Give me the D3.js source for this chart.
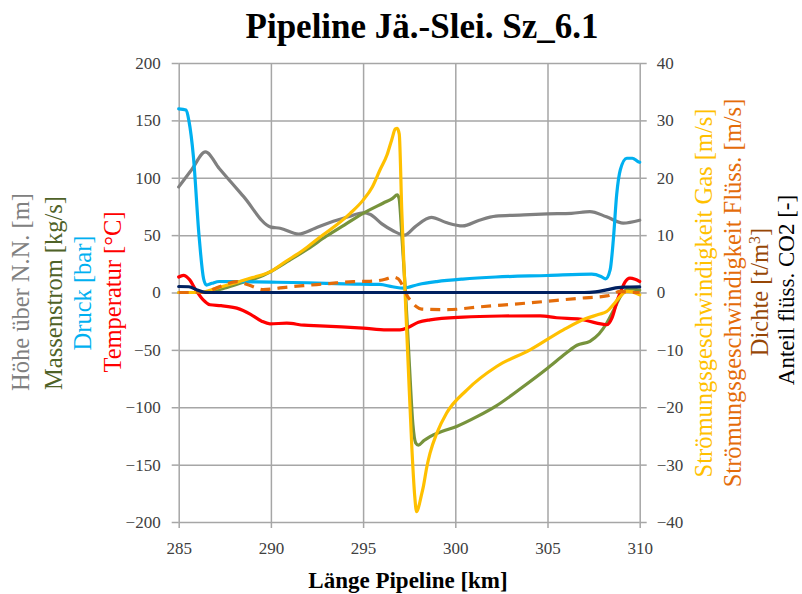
<!DOCTYPE html>
<html><head><meta charset="utf-8">
<script src="https://cdn.jsdelivr.net/npm/d3@7"></script>
<style>body{margin:0;background:#fff}svg{display:block}text{font-family:"Liberation Serif","Times New Roman",serif}</style>
</head><body><svg id="c" width="802" height="594" font-family="Liberation Serif, serif"></svg>
<script>
// ---- data ----
const xTicks = [285, 290, 295, 300, 305, 310];
const leftTicks = [-200, -150, -100, -50, 0, 50, 100, 150, 200];
const rightTicks = [-40, -30, -20, -10, 0, 10, 20, 30, 40];

const hoeheKm = [285, 285.7, 286.45, 287.2, 288.5, 290, 290.5, 291.5, 292.4, 293.2, 294.2, 295.0, 295.4, 296.0, 296.6, 297.25, 297.8, 298.7, 299.5, 300.4, 301.3, 302.2, 303.5, 305.0, 306.3, 307.3, 308.2, 309.1, 310];
const hoehe   = [92, 107, 122.5, 108, 84, 57, 56, 51, 56, 61, 66, 69.5, 68, 60, 54, 50, 57, 65.5, 61, 58, 63, 66.5, 67.5, 68.5, 69, 70.5, 66, 60.5, 63];

const massKm = [285, 286.5, 287.5, 288.5, 289.3, 290, 291, 292, 293, 294, 295, 296.1, 296.6, 296.85, 296.95, 297.1, 297.3, 297.5, 297.7, 297.85, 298.0, 298.3, 298.63, 299.3, 300.1, 301.2, 302.2, 303.6, 305.0, 306.0, 306.6, 307.3, 307.8, 308.2, 308.6, 308.95, 309.3, 309.6, 310];
const massenstrom = [0, 0, 4, 9, 13, 18.3, 28, 38, 49, 59, 69, 78, 82, 85, 82, 50, 0, -60, -115, -131, -133, -129, -125.5, -121, -116.5, -108, -99, -83, -66, -53, -46, -42.5, -36, -27, -15, -3.5, 2.5, 3, 2];

const druckKm = [285, 285.4, 285.55, 285.8, 286.1, 286.35, 286.5, 286.8, 287.2, 288, 290, 292, 294, 295.9, 296.6, 297.2, 298.0, 299, 300.4, 302.2, 305, 307.4, 307.9, 308.15, 308.4, 308.57, 308.75, 308.95, 309.3, 309.6, 309.92, 310];
const druck   = [160, 159, 150, 118, 50, 12, 6.5, 8, 9.6, 9.5, 9, 8.5, 7.5, 7, 5, 3.8, 7, 9.5, 11.7, 13.5, 14.8, 16, 14, 11.9, 20, 46, 85, 107, 117, 117, 114, 113.5];

const tempKm = [285, 285.25, 285.6, 285.9, 286.33, 286.7, 287.3, 288.15, 288.9, 289.5, 289.95, 290.86, 291.8, 292.66, 295, 296.28, 297.0, 297.5, 298.0, 298.63, 300.43, 302.5, 304.6, 305.5, 306.76, 307.67, 308.21, 308.5, 308.8, 309.0, 309.2, 309.47, 309.75, 310];
const temperatur = [13.5, 15, 11, 3, -6.4, -10.7, -11.5, -13.6, -19, -25, -27.3, -26.7, -28.5, -29, -31, -32.5, -32.5, -30, -26, -23.8, -21.4, -20.5, -20.3, -22, -23.2, -26.7, -28.1, -22, -6, 2, 9, 12.5, 11.5, 9.6];

const gasKm = [285, 285.8, 286.4, 287, 288, 289, 289.95, 290.8, 291.76, 292.6, 293.57, 294.3, 295.0, 295.5, 295.92, 296.3, 296.55, 296.75, 296.85, 296.96, 297.1, 297.27, 297.45, 297.64, 297.8, 297.9, 298.0, 298.15, 298.27, 298.45, 298.63, 299.0, 299.53, 300.62, 302.24, 304.05, 305.86, 307.12, 307.8, 308.21, 308.6, 308.93, 309.3, 309.6, 310];
const gasGeschw = [0, 0, 0.1, 0.7, 1.6, 2.6, 3.6, 5.4, 7.4, 9.5, 11.8, 13.8, 16.1, 18.4, 21.4, 24, 26.6, 28.5, 28.6, 27.6, 14, 0.5, -13, -26.8, -35.5, -38.2, -37.5, -35.5, -33.8, -30.5, -28, -24.5, -21, -17, -12.9, -10, -6.5, -4.5, -3.8, -3.3, -2, -0.7, 0.2, 0.1, -0.4];

const fluessKm = [285, 285.5, 286.33, 287.2, 288.15, 288.8, 289.59, 290.5, 291.76, 293.0, 294.47, 295.37, 296.2, 296.64, 296.9, 297.2, 297.4, 297.64, 297.9, 298.18, 299.53, 301.34, 304.05, 306.76, 308.21, 308.6, 308.93, 309.47, 310];
const fluessGeschw = [0, 0, 0, 1.0, 1.9, 1.3, 0.5, 0.8, 1.2, 1.5, 1.9, 1.95, 2.3, 2.7, 2.4, 0.8, -0.6, -1.6, -2.5, -2.9, -3.0, -2.5, -1.8, -1.0, -0.6, -0.2, 0.2, 0, 0];

const anteilKm = [285, 285.55, 286.0, 286.43, 286.8, 300, 307.0, 307.6, 308.2, 308.7, 309.2, 310];
const anteilCO2 = [1.05, 1.0, 0.45, 0.02, 0, 0, 0, 0.1, 0.45, 0.8, 0.95, 0.97];

// ---- layout ----
const FONT = "Liberation Serif";
const svg = d3.select("#c");
const L = 178.7, R = 639.7, T = 63, B = 522;
const x = d3.scaleLinear().domain([285, 310]).range([L, R]);
const yL = d3.scaleLinear().domain([-200, 200]).range([B, T]);
const yR = d3.scaleLinear().domain([-40, 40]).range([B, T]);
const gridCol = "#a6a6a6", tickTxt = "#404040";

// gridlines
svg.append("g").attr("transform", `translate(${L},0)`)
  .call(d3.axisLeft(yL).tickValues(leftTicks).tickSize(-(R - L)).tickFormat(""))
  .call(g => { g.select(".domain").remove(); g.selectAll("line").attr("stroke", gridCol).attr("stroke-width", 1.5); });
svg.append("g").attr("transform", `translate(0,${B})`)
  .call(d3.axisBottom(x).tickValues(xTicks).tickSize(-(B - T)).tickFormat(""))
  .call(g => { g.select(".domain").remove(); g.selectAll("line").attr("stroke", gridCol).attr("stroke-width", 1.5); });

function styleAxis(g) {
  g.attr("font-family", FONT);
  g.select(".domain").remove();
  g.selectAll("line").attr("stroke", gridCol).attr("stroke-width", 1.5);
  g.selectAll("text").attr("font-family", FONT).attr("font-size", 17).attr("fill", tickTxt);
}
svg.append("g").attr("transform", `translate(${L},0)`)
  .call(d3.axisLeft(yL).tickValues(leftTicks).tickSize(7).tickPadding(11)).call(styleAxis);
svg.append("g").attr("transform", `translate(${R},0)`)
  .call(d3.axisRight(yR).tickValues(rightTicks).tickSize(7).tickPadding(10)).call(styleAxis);
svg.append("g").attr("transform", `translate(0,${B})`)
  .call(d3.axisBottom(x).tickValues(xTicks).tickSize(6).tickPadding(14)).call(styleAxis);

// series
const curve = d3.curveMonotoneX;
function draw(kms, vals, y, color, dash) {
  const pts = kms.map((k, i) => [k, vals[i]]);
  svg.append("path").datum(pts)
    .attr("fill", "none").attr("stroke", color).attr("stroke-width", 3.2)
    .attr("stroke-linejoin", "round").attr("stroke-linecap", dash ? "butt" : "round")
    .attr("stroke-dasharray", dash || null)
    .attr("d", d3.line().curve(curve).x(d => x(d[0])).y(d => y(d[1])));
}
draw(hoeheKm, hoehe, yL, "#808080");
draw(massKm, massenstrom, yL, "#77933c");
draw(druckKm, druck, yL, "#00b0f0");
draw(tempKm, temperatur, yL, "#ff0000");
draw(gasKm, gasGeschw, yR, "#ffc000");
draw(fluessKm, fluessGeschw, yR, "#e46c0a", "10,7");
draw(anteilKm, anteilCO2, yR, "#002060");

// title
svg.append("text").attr("x", 422).attr("y", 38).attr("text-anchor", "middle").attr("font-family", FONT)
  .attr("font-size", 35).attr("font-weight", "bold").attr("fill", "#000").text("Pipeline Jä.-Slei. Sz_6.1");
svg.append("text").attr("x", 408).attr("y", 588).attr("text-anchor", "middle").attr("font-family", FONT)
  .attr("font-size", 23).attr("font-weight", "bold").attr("fill", "#000").text("Länge Pipeline [km]");

// rotated axis labels
function vlabel(cx, cy, parts, size) {
  const t = svg.append("text").attr("transform", `translate(${cx},${cy}) rotate(-90)`)
    .attr("text-anchor", "middle").attr("dy", "0.35em").attr("font-size", size).attr("font-family", FONT);
  parts.forEach(p => {
    const s = t.append("tspan").attr("fill", p.c).text(p.t);
    if (p.sup) s.attr("baseline-shift", "super").attr("font-size", size * 0.65);
  });
}
vlabel(20, 292, [{t: "Höhe über N.N. [m]", c: "#808080"}], 24.5);
vlabel(53, 293, [{t: "Massenstrom [kg/s]", c: "#4f6228"}], 24.5);
vlabel(82, 293, [{t: "Druck [bar]", c: "#00b0f0"}], 24.5);
vlabel(112, 292, [{t: "Temperatur [°C]", c: "#ff0000"}], 24.5);

vlabel(703, 293, [{t: "Strömungsgeschwindigkeit Gas [m/s]", c: "#ffc000"}], 24.5);
vlabel(732, 293, [{t: "Strömungsgeschwindigkeit Flüss. [m/s]", c: "#e46c0a"}], 24.5);
vlabel(759, 292, [{t: "Dichte [t/m", c: "#974706"}, {t: "3", c: "#974706", sup: true}, {t: "]", c: "#974706"}], 24.5);
vlabel(786, 290, [{t: "Anteil flüss. CO2 [-]", c: "#000"}], 23);
</script></body></html>
